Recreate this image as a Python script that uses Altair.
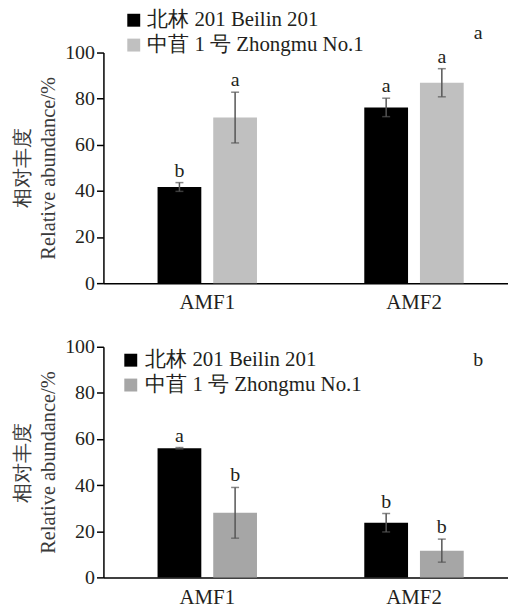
import altair as alt
import pandas as pd

categories = ["AMF1", "AMF1", "AMF2", "AMF2"]
varieties = ["北林 201 Beilin 201", "中苜 1 号 Zhongmu No.1",
             "北林 201 Beilin 201", "中苜 1 号 Zhongmu No.1"]
variety_order = ["北林 201 Beilin 201", "中苜 1 号 Zhongmu No.1"]

top_means = [41.7, 71.8, 76.2, 86.9]
top_err = [1.9, 11.0, 4.0, 6.1]
top_letters = ["b", "a", "a", "a"]

bottom_means = [56.0, 28.0, 23.7, 11.6]
bottom_err = [0.3, 11.0, 4.0, 5.0]
bottom_letters = ["a", "b", "b", "b"]

top_colors = ["#000000", "#c0c0c0"]
bottom_colors = ["#000000", "#a6a6a6"]

top_extra = "a"
top_extra_y = 105.7
bottom_extra = "b"
bottom_extra_y = 91.8

FONT = "Liberation Serif"
TXT = "#231f20"
W, H = 407, 232
YTITLE = ["相对丰度", "Relative abundance/%"]


def panel(means, errs, letters, colors, extra, extra_y, leg_x, leg_y, leg_off):
    df = pd.DataFrame({
        "cat": categories, "var": varieties, "mean": means, "err": errs,
        "letter": letters,
    })
    df["lo"] = df["mean"] - df["err"]
    df["hi"] = df["mean"] + df["err"]

    x = alt.X("cat:N", title=None,
              scale=alt.Scale(paddingInner=0.519, paddingOuter=0.238, align=0.55),
              axis=alt.Axis(labelAngle=0, ticks=False, labelPadding=9,
                            labelFontSize=21))
    xo = alt.XOffset("var:N", sort=variety_order,
                     scale=alt.Scale(paddingInner=0.214, paddingOuter=0))
    yscale = alt.Scale(domain=[0, 100])
    yaxis = alt.Axis(values=[0, 20, 40, 60, 80, 100], grid=False,
                     tickSize=7, labelPadding=2, titlePadding=6,
                     labelFontSize=20)

    def yenc(field):
        return alt.Y(field, scale=yscale, axis=yaxis, title=YTITLE)

    base = alt.Chart(df)
    bars = base.mark_bar().encode(
        x=x, xOffset=xo, y=yenc("mean:Q"),
        color=alt.Color("var:N", sort=variety_order,
                        scale=alt.Scale(domain=variety_order, range=colors),
                        legend=alt.Legend(title=None, orient="none",
                                          legendX=leg_x, legendY=leg_y,
                                          symbolType="square", symbolSize=169,
                                          symbolStrokeWidth=0, labelFontSize=21,
                                          labelFont=FONT, labelColor=TXT,
                                          labelOffset=leg_off, rowPadding=3,
                                          labelLimit=400)),
    )
    rule = base.mark_rule(color="#555555", strokeWidth=1.5).encode(
        x=x, xOffset=xo, y=yenc("lo:Q"), y2="hi:Q")
    cap_lo = base.mark_tick(color="#555555", thickness=1.5, size=8).encode(
        x=x, xOffset=xo, y=yenc("lo:Q"))
    cap_hi = base.mark_tick(color="#555555", thickness=1.5, size=8).encode(
        x=x, xOffset=xo, y=yenc("hi:Q"))
    text = base.mark_text(font=FONT, fontSize=20, color=TXT,
                          baseline="alphabetic", dy=-6).encode(
        x=x, xOffset=xo, y=yenc("hi:Q"), text="letter:N")
    ex = alt.Chart(pd.DataFrame({"t": [extra], "y": [extra_y]})).mark_text(
        font=FONT, fontSize=20, color=TXT, baseline="alphabetic").encode(
        x=alt.value(377), y=yenc("y:Q"), text="t:N")
    return alt.layer(bars, rule, cap_lo, cap_hi, text, ex).properties(
        width=W, height=H)


top = panel(top_means, top_err, top_letters, top_colors, top_extra, top_extra_y,
            20, -43, 3)
bottom = panel(bottom_means, bottom_err, bottom_letters, bottom_colors,
               bottom_extra, bottom_extra_y, 17, 3, 4)

chart = alt.vconcat(top, bottom, spacing=24).resolve_scale(
    color="independent").resolve_legend(color="independent").properties(
    padding={"left": 5, "top": 0, "right": 0, "bottom": 0}
).configure_view(stroke=None).configure_axis(
    labelFont=FONT, labelColor=TXT,
    titleFont=FONT, titleFontSize=20.5, titleColor="#3a3a3a",
    titleFontWeight="normal", titleLineHeight=26,
    domainColor="#000000", domainWidth=1.5,
    tickColor="#000000", tickWidth=1.5,
).configure_legend(labelFont=FONT)

chart.save("out.html", embed_options={"renderer": "svg", "actions": False})
